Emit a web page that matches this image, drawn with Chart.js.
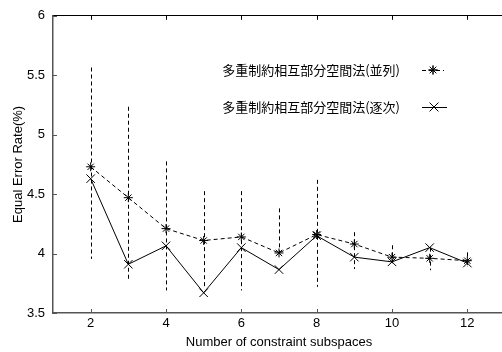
<!DOCTYPE html>
<html><head><meta charset="utf-8">
<script src="https://cdn.jsdelivr.net/npm/chart.js@4/dist/chart.umd.min.js"></script>
<style>
html,body{margin:0;padding:0;background:#fff;overflow:hidden;width:502px;height:352px}
#wrap{width:512px;height:352px;position:relative}
canvas{display:block}
</style></head><body>
<div id="wrap"><canvas id="c" width="512" height="352"></canvas></div>
<script>
const subspaces=[2,3,4,5,6,7,8,9,10,11,12];
const parallelEER=[4.73,4.47,4.21,4.11,4.14,4.005,4.16,4.08,3.97,3.96,3.94];
const parallelLow=[3.955,3.775,3.69,3.70,3.69,4.005,3.72,3.87,3.90,3.86,3.89];
const parallelHigh=[5.565,5.235,4.775,4.525,4.525,4.38,4.62,4.18,4.07,4.05,4.01];
const sequentialEER=[4.63,3.91,4.065,3.67,4.05,3.865,4.15,3.97,3.93,4.05,3.92];
const xTicks=[2,4,6,8,10,12];
const yTicks=[3.5,4,4.5,5,5.5,6];
const seriesNames=['多重制約相互部分空間法(並列)','多重制約相互部分空間法(逐次)'];
const xTitle='Number of constraint subspaces';
const yTitle='Equal Error Rate(%)';

const latin='"Liberation Sans", Arial, Helvetica, sans-serif';
const cjk='"Noto Sans CJK JP", "Noto Sans CJK SC", sans-serif';

const errorBars={
  id:'errorBars',
  beforeDatasetsDraw(chart){
    const {ctx,scales:{x,y}}=chart;
    ctx.save();
    ctx.strokeStyle='#000';ctx.lineWidth=1;ctx.setLineDash([4,3]);
    subspaces.forEach((s,i)=>{
      const px=Math.round(x.getPixelForValue(s))+0.5;
      ctx.beginPath();
      ctx.moveTo(px,y.getPixelForValue(parallelHigh[i]));
      ctx.lineTo(px,y.getPixelForValue(parallelLow[i]));
      ctx.stroke();
    });
    ctx.restore();
  }
};
const innerTicks={
  id:'innerTicks',
  afterDraw(chart){
    const {ctx,chartArea:a,scales:{x,y}}=chart;
    ctx.save();ctx.lineWidth=1;
    xTicks.forEach(v=>{
      const px=Math.round(x.getPixelForValue(v))+0.5;
      ctx.strokeStyle='#000';
      ctx.beginPath();ctx.moveTo(px,a.top);ctx.lineTo(px,a.top+4);ctx.stroke();
      ctx.strokeStyle='#555';
      ctx.beginPath();ctx.moveTo(px,a.bottom);ctx.lineTo(px,a.bottom-4);ctx.stroke();
    });
    yTicks.forEach(v=>{
      const py=Math.round(y.getPixelForValue(v))+0.5;
      ctx.strokeStyle='#555';
      ctx.beginPath();ctx.moveTo(a.left,py);ctx.lineTo(a.left+4,py);ctx.stroke();
    });
    ctx.restore();
  }
};
const sideLegend={
  id:'sideLegend',
  afterDatasetsDraw(chart){
    const {ctx}=chart;
    const rows=[{y:70,x0:422,x1:444,mx:433,ds:0},{y:107,x0:422,x1:447,mx:434,ds:1}];
    ctx.save();
    ctx.font='13px '+cjk;ctx.fillStyle='#000';ctx.textAlign='right';ctx.textBaseline='middle';
    rows.forEach(r=>{
      const d=chart.data.datasets[r.ds];
      ctx.fillText(d.label,400,r.y);
      ctx.strokeStyle='#000';ctx.lineWidth=1;
      ctx.setLineDash(d.borderDash||[]);
      ctx.beginPath();ctx.moveTo(r.x0,r.y+0.5);ctx.lineTo(r.x1,r.y+0.5);ctx.stroke();
      ctx.setLineDash([]);
      Chart.helpers.drawPoint(ctx,{pointStyle:d.pointStyle,radius:d.pointRadius,borderWidth:1},r.mx,r.y);
      ctx.stroke();
    });
    ctx.restore();
  }
};

new Chart(document.getElementById('c'),{
  type:'scatter',
  data:{datasets:[
    {label:seriesNames[0],data:subspaces.map((s,i)=>({x:s,y:parallelEER[i]})),showLine:true,
     borderColor:'#000',borderWidth:1,borderDash:[4,3],pointStyle:'star',pointRadius:4.5,
     pointBorderColor:'#000',pointBorderWidth:1,pointBackgroundColor:'#000',tension:0},
    {label:seriesNames[1],data:subspaces.map((s,i)=>({x:s,y:sequentialEER[i]})),showLine:true,
     borderColor:'#000',borderWidth:1,borderDash:[],pointStyle:'crossRot',pointRadius:6,
     pointBorderColor:'#000',pointBorderWidth:1,pointBackgroundColor:'#000',tension:0}
  ]},
  options:{
    responsive:false,animation:false,devicePixelRatio:1,
    layout:{padding:{left:0,right:6,top:0,bottom:0}},
    plugins:{legend:{display:false},tooltip:{enabled:false}},
    scales:{
      x:{type:'linear',position:'bottom',min:1,max:13,
        afterBuildTicks:s=>{s.ticks=xTicks.map(v=>({value:v}));},
        afterFit:s=>{s.height=39;},
        grid:{display:false,drawTicks:false},
        border:{display:true,color:'#555',width:1.5},
        ticks:{padding:3,color:'#000',font:{family:latin,size:13},maxRotation:0,callback:v=>String(v)},
        title:{display:true,text:xTitle,color:'#000',font:{family:latin,size:13},padding:{top:0,bottom:2}}
      },
      xTop:{type:'linear',position:'top',min:1,max:13,
        afterFit:s=>{s.height=13;},
        grid:{display:false,drawTicks:false},
        border:{display:true,color:'#000',width:1},
        ticks:{display:false}
      },
      y:{type:'linear',position:'left',min:3.5,max:6,
        afterBuildTicks:s=>{s.ticks=yTicks.map(v=>({value:v}));},
        afterFit:s=>{s.width=53;},
        grid:{display:false,drawTicks:false},
        border:{display:true,color:'#555',width:1.5},
        ticks:{padding:8,color:'#000',font:{family:latin,size:13},callback:v=>String(v)},
        title:{display:true,text:yTitle,color:'#000',font:{family:latin,size:13},padding:{top:11,bottom:0}}
      }
    }
  },
  plugins:[errorBars,innerTicks,sideLegend]
});
</script>
</body></html>
